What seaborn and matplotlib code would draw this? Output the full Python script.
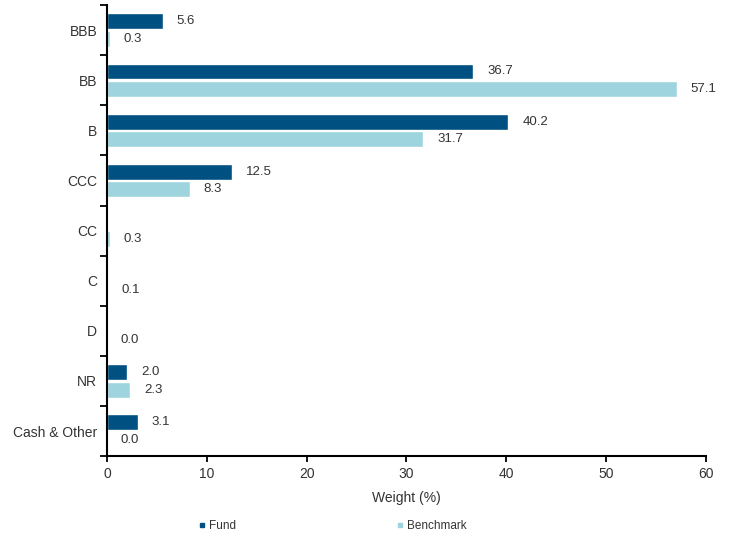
import numpy as np
import pandas as pd
import matplotlib
matplotlib.use("Agg")
import matplotlib.pyplot as plt
import seaborn as sns
from matplotlib.lines import Line2D

categories = ["BBB", "BB", "B", "CCC", "CC", "C", "D", "NR", "Cash & Other"]
fund = [5.6, 36.7, 40.2, 12.5, np.nan, np.nan, np.nan, 2.0, 3.1]
benchmark = [0.3, 57.1, 31.7, 8.3, 0.3, 0.1, 0.0, 2.3, 0.0]
series = ["Fund", "Benchmark"]
colors = ["#005082", "#9dd4de"]

df = pd.DataFrame({
    "Rating": categories * 2,
    "Series": ["Fund"] * len(categories) + ["Benchmark"] * len(categories),
    "Weight": fund + benchmark,
})

sns.set_style("white")
plt.rcParams["font.family"] = ["Liberation Sans", "DejaVu Sans"]
plt.rcParams["font.size"] = 9

fig = plt.figure(figsize=(7.29, 5.36), dpi=100)
ax = fig.add_axes([0.1468, 0.149, 0.8216, 0.8415])

sns.barplot(data=df, y="Rating", x="Weight", hue="Series", order=categories,
            hue_order=series, palette=colors, saturation=1, orient="h",
            width=0.7, gap=0.1, legend=False, ax=ax)

for cont in ax.containers:
    labels = ["" if np.isnan(w) else f"{w:.1f}" for w in cont.datavalues]
    ax.bar_label(cont, labels=labels, padding=10, fontsize=9.5, color="#333333")

ax.set_xlim(0, 60)
ax.set_ylim(len(categories) - 0.5, -0.5)
ax.set_xticks(range(0, 61, 10))
ax.set_yticks(np.arange(-0.5, len(categories), 1))
ax.set_yticklabels([])
ax.set_yticks(np.arange(len(categories)), minor=True)
ax.set_yticklabels(categories, minor=True)
ax.tick_params(axis="y", which="major", left=True, length=5, width=1.3, color="black")
ax.tick_params(axis="y", which="minor", left=False, length=0, pad=7, labelsize=10, labelcolor="#333333")
ax.tick_params(axis="x", bottom=True, length=4, width=1.3, color="black", labelsize=10, labelcolor="#333333", pad=4)

for s in ["top", "right"]:
    ax.spines[s].set_visible(False)
for s in ["left", "bottom"]:
    ax.spines[s].set_color("black")
    ax.spines[s].set_linewidth(1.5)

ax.set_xlabel("Weight (%)", fontsize=10, color="#333333", labelpad=7)
ax.set_ylabel("")

handles = [Line2D([], [], marker="s", linestyle="none", markersize=3.5, color=c) for c in colors]
fig.legend(handles, series, loc="center", bbox_to_anchor=(0.455, 0.018), ncol=2,
           frameon=False, fontsize=8.5, handletextpad=0.2, columnspacing=13.5, handlelength=0.8,
           labelcolor="#333333")

fig.savefig("out.png", dpi=100)
